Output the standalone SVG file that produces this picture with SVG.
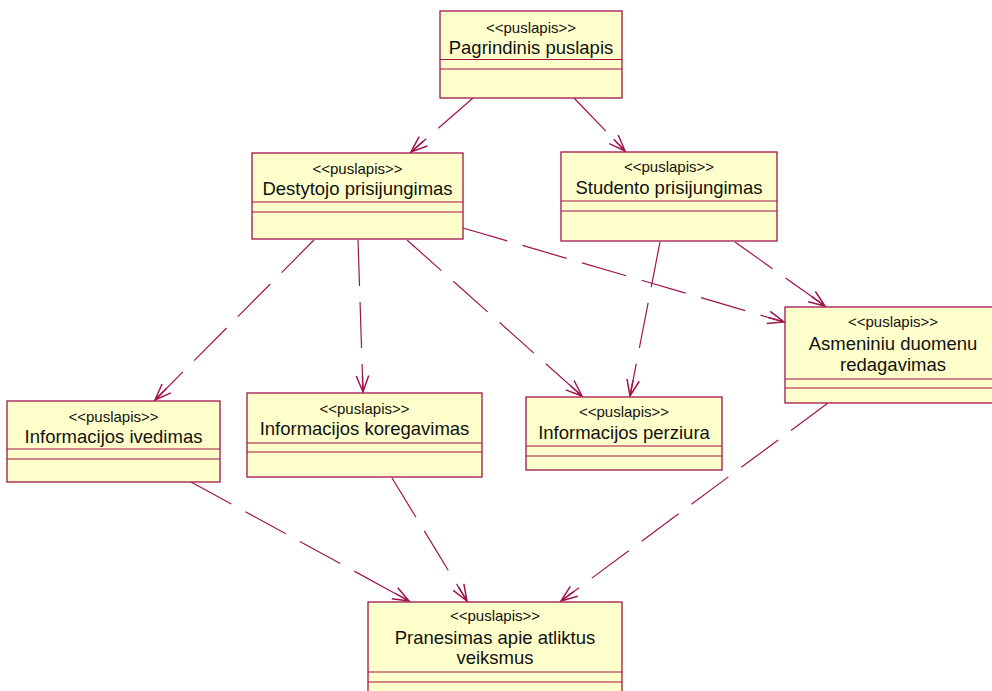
<svg xmlns="http://www.w3.org/2000/svg" width="992" height="691" viewBox="0 0 992 691">
  <style>
    .box { fill: #FFFFCC; stroke: #A0144A; stroke-width: 1.3; }
    .sep { stroke: #A0144A; stroke-width: 1.2; }
    .st { font-family: "Liberation Sans", Arial, sans-serif; font-size: 15px; fill: #111; text-anchor: middle; }
    .nm { font-family: "Liberation Sans", Arial, sans-serif; font-size: 18.5px; fill: #111; text-anchor: middle; }
    .dep { fill: none; stroke: #A0144A; stroke-width: 1.2; stroke-dasharray: 46 16; marker-end: url(#open); }
  </style>
  <defs>
    <marker id="open" markerUnits="userSpaceOnUse" markerWidth="20" markerHeight="20" viewBox="-14 -8 16 16" refX="0" refY="0" orient="auto">
      <path d="M -13 -5 L 0 0 L -13 5 M -13 0 L 0 0" fill="none" stroke="#A0144A" stroke-width="1.2" stroke-dasharray="none"/>
    </marker>
  </defs>
  <rect width="992" height="691" fill="#FFFFFF"/>

  <!-- dependency connectors -->
  <g id="connectors">
    <line class="dep" x1="473" y1="98" x2="411" y2="152"/>
    <line class="dep" x1="574" y1="98" x2="625" y2="151"/>
    <line class="dep" x1="314" y1="240" x2="155" y2="400"/>
    <line class="dep" x1="358" y1="240" x2="363" y2="392"/>
    <line class="dep" x1="407" y1="240" x2="582" y2="396"/>
    <line class="dep" x1="463" y1="228" x2="784" y2="322"/>
    <line class="dep" x1="660" y1="242" x2="630" y2="396"/>
    <line class="dep" x1="735" y1="242" x2="825" y2="306"/>
    <line class="dep" x1="191" y1="482" x2="409" y2="601"/>
    <line class="dep" x1="392" y1="478" x2="467" y2="601"/>
    <line class="dep" x1="828" y1="403" x2="561" y2="601"/>
  </g>

  <g id="pagrindinis">
    <rect class="box" x="440" y="11" width="182" height="87"/>
    <line class="sep" x1="440" y1="59.5" x2="622" y2="59.5"/>
    <line class="sep" x1="440" y1="69" x2="622" y2="69"/>
    <text class="st" x="531" y="32.5">&lt;&lt;puslapis&gt;&gt;</text>
    <text class="nm" x="531" y="53.5">Pagrindinis puslapis</text>
  </g>

  <g id="destytojo">
    <rect class="box" x="252" y="153" width="211" height="86"/>
    <line class="sep" x1="252" y1="202" x2="463" y2="202"/>
    <line class="sep" x1="252" y1="212" x2="463" y2="212"/>
    <text class="st" x="357.5" y="173.5">&lt;&lt;puslapis&gt;&gt;</text>
    <text class="nm" x="357.5" y="195">Destytojo prisijungimas</text>
  </g>

  <g id="studento">
    <rect class="box" x="561" y="152" width="216" height="89"/>
    <line class="sep" x1="561" y1="201" x2="777" y2="201"/>
    <line class="sep" x1="561" y1="211" x2="777" y2="211"/>
    <text class="st" x="669" y="172">&lt;&lt;puslapis&gt;&gt;</text>
    <text class="nm" x="669" y="194">Studento prisijungimas</text>
  </g>

  <g id="asmeniniu">
    <rect class="box" x="785" y="307" width="215" height="96"/>
    <line class="sep" x1="785" y1="379" x2="1000" y2="379"/>
    <line class="sep" x1="785" y1="388" x2="1000" y2="388"/>
    <text class="st" x="893" y="327">&lt;&lt;puslapis&gt;&gt;</text>
    <text class="nm" x="893" y="350">Asmeniniu duomenu</text>
    <text class="nm" x="893" y="371">redagavimas</text>
  </g>

  <g id="ivedimas">
    <rect class="box" x="7" y="401" width="213" height="81"/>
    <line class="sep" x1="7" y1="449" x2="220" y2="449"/>
    <line class="sep" x1="7" y1="459" x2="220" y2="459"/>
    <text class="st" x="113.5" y="421.5">&lt;&lt;puslapis&gt;&gt;</text>
    <text class="nm" x="113.5" y="443">Informacijos ivedimas</text>
  </g>

  <g id="koregavimas">
    <rect class="box" x="247" y="393" width="235" height="84"/>
    <line class="sep" x1="247" y1="443" x2="482" y2="443"/>
    <line class="sep" x1="247" y1="452" x2="482" y2="452"/>
    <text class="st" x="364.5" y="413.5">&lt;&lt;puslapis&gt;&gt;</text>
    <text class="nm" x="364.5" y="435">Informacijos koregavimas</text>
  </g>

  <g id="perziura">
    <rect class="box" x="526" y="397" width="196" height="73"/>
    <line class="sep" x1="526" y1="446" x2="722" y2="446"/>
    <line class="sep" x1="526" y1="456" x2="722" y2="456"/>
    <text class="st" x="624" y="417">&lt;&lt;puslapis&gt;&gt;</text>
    <text class="nm" x="624" y="439">Informacijos perziura</text>
  </g>

  <g id="pranesimas">
    <rect class="box" x="368" y="602" width="254" height="100"/>
    <line class="sep" x1="368" y1="672" x2="622" y2="672"/>
    <line class="sep" x1="368" y1="682" x2="622" y2="682"/>
    <text class="st" x="495" y="620.5">&lt;&lt;puslapis&gt;&gt;</text>
    <text class="nm" x="495" y="644">Pranesimas apie atliktus</text>
    <text class="nm" x="495" y="664">veiksmus</text>
  </g>
</svg>
